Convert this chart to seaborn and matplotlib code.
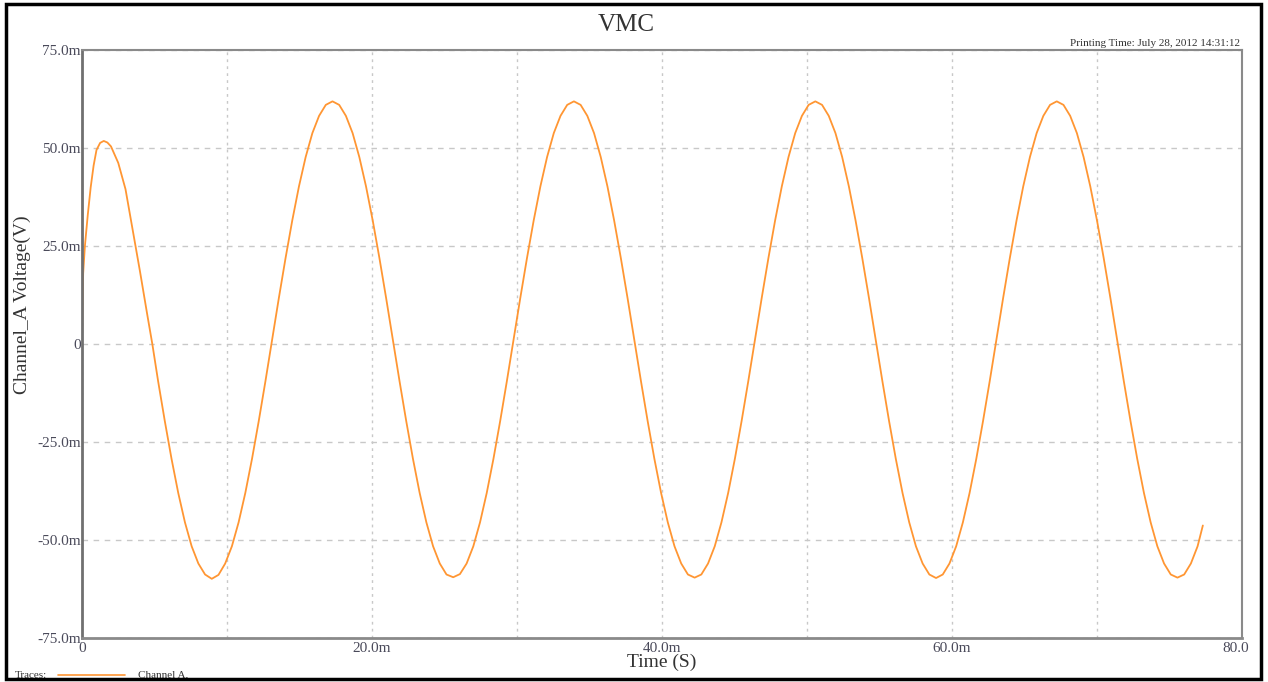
import numpy as np
import pandas as pd
import seaborn as sns
import matplotlib.pyplot as plt
from matplotlib.patches import Rectangle
from matplotlib.lines import Line2D

# start-up hump, time in ms, voltage in mV
t_start = [0.0, 0.03, 0.08, 0.2, 0.4, 0.6, 0.8, 1.0, 1.25, 1.5, 1.75, 2.0, 2.5, 3.0, 3.5, 4.0, 4.5, 4.85]
v_start = [0.0, 8.0, 18.0, 25.0, 33.0, 40.0, 45.5, 49.5, 51.3, 51.8, 51.4, 50.4, 46.2, 39.5, 29.0, 18.5, 7.5, 0.0]

# steady trace, read every 0.4625 ms starting at 5.25 ms
t_steady0 = 5.25
t_step = 0.4625
v_lead = [-9.5, -19.7, -29.3, -38.0, -45.5, -51.6, -56.0, -58.8]
v_cycle1 = [-59.9, -58.9, -56.0, -51.6, -45.5, -38.0, -29.3, -19.7, -9.5, 1.1, 11.7, 21.9,
            31.5, 40.2, 47.7, 53.8, 58.2, 61.0, 61.9, 61.0, 58.2, 53.8, 47.7, 40.2,
            31.5, 21.9, 11.7, 1.1, -9.5, -19.7, -29.3, -38.0, -45.5, -51.6, -56.0, -58.8]
v_cycle2 = [-59.5, -58.7, -56.0, -51.6, -45.5, -38.0, -29.3, -19.7, -9.5, 1.1, 11.7, 21.9,
            31.5, 40.2, 47.7, 53.8, 58.2, 61.0, 61.9, 61.0, 58.2, 53.8, 47.7, 40.2,
            31.5, 21.9, 11.7, 1.1, -9.5, -19.7, -29.3, -38.0, -45.5, -51.6, -56.0, -58.8]
v_cycle3 = [-59.6, -58.8, -56.0, -51.6, -45.5, -38.0, -29.3, -19.7, -9.5, 1.1, 11.7, 21.9,
            31.5, 40.2, 47.7, 53.8, 58.2, 61.0, 61.9, 61.0, 58.2, 53.8, 47.7, 40.2,
            31.5, 21.9, 11.7, 1.1, -9.5, -19.7, -29.3, -38.0, -45.5, -51.6, -56.0, -58.8]
v_cycle4 = [-59.7, -58.8, -56.0, -51.6, -45.5, -38.0, -29.3, -19.7, -9.5, 1.1, 11.7, 21.9,
            31.5, 40.2, 47.7, 53.8, 58.2, 61.0, 61.9, 61.0, 58.2, 53.8, 47.7, 40.2,
            31.5, 21.9, 11.7, 1.1, -9.5, -19.7, -29.3, -38.0, -45.5, -51.6, -56.0, -58.8]
v_tail = [-59.6, -58.8, -56.0, -51.6]
t_end = [77.3]
v_end = [-46.3]

x_ticks = [0, 20, 40, 60, 80]
x_labels = ['0', '20.0m', '40.0m', '60.0m', '80.0m']
y_ticks = [-75, -50, -25, 0, 25, 50, 75]
y_labels = ['-75.0m', '-50.0m', '-25.0m', '0', '25.0m', '50.0m', '75.0m']

v_steady = v_lead + v_cycle1 + v_cycle2 + v_cycle3 + v_cycle4 + v_tail
t_steady = list(t_steady0 + t_step * np.arange(len(v_steady)))
df = pd.DataFrame({'t': t_start + t_steady + t_end,
                   'v': v_start + v_steady + v_end})

sns.set_theme(style='white')
plt.rcParams['font.family'] = ['Liberation Serif', 'DejaVu Serif']

W, H = 1268, 682
fig = plt.figure(figsize=(W / 100, H / 100), dpi=100)
ax = fig.add_axes([82 / W, 1 - 638 / H, (1242 - 82) / W, (638 - 50) / H])

sns.lineplot(data=df, x='t', y='v', ax=ax, color='#ff9633', linewidth=1.3,
             estimator=None, sort=False)

ax.set_xlim(0, 80)
ax.set_ylim(-75, 75)
ax.set_xticks(x_ticks, x_labels)
ax.set_yticks(y_ticks, y_labels)
ax.set_xticks([10, 30, 50, 70], minor=True)
ax.grid(True, which='both', axis='x', color='#c8c8c8', linestyle=(0, (2, 3)), linewidth=1)
ax.grid(True, which='major', axis='y', color='#c8c8c8', linestyle=(0, (4, 4)), linewidth=1)
ax.tick_params(which='both', length=0, labelsize=11, colors='#4a4a5a')
ax.tick_params(axis='x', pad=3)
ax.tick_params(axis='y', pad=1)
ax.set_xlabel('')
ax.set_ylabel('')
for s in ax.spines.values():
    s.set_color('#8a8a8a')
    s.set_linewidth(1.5)
ax.spines['left'].set_color('#707070')
ax.spines['left'].set_linewidth(2)
ax.spines['bottom'].set_linewidth(2)

fig.text(626 / W, 1 - 25 / H, 'VMC', ha='center', va='center', fontsize=18, color='#333333')
fig.text(1240 / W, 1 - 43 / H, 'Printing Time: July 28, 2012 14:31:12', ha='right', va='center',
         fontsize=8, color='#333333')
fig.text(22 / W, 1 - 305 / H, 'Channel_A Voltage(V)', rotation=90, ha='center', va='center',
         fontsize=14, color='#333333')
fig.text(662 / W, 1 - 662 / H, 'Time (S)', ha='center', va='center', fontsize=14, color='#333333')

# legend strip at the bottom
fig.text(15 / W, 1 - 675 / H, 'Traces:', ha='left', va='center', fontsize=8, color='#333333')
fig.add_artist(Line2D([58 / W, 125 / W], [1 - 675 / H, 1 - 675 / H], color='#ff9633', linewidth=1.2))
fig.text(138 / W, 1 - 675 / H, 'Channel A,', ha='left', va='center', fontsize=8, color='#333333')

# cut-off of the last tick label and the outer frame
fig.add_artist(Rectangle((1249 / W, 1 - 662 / H), 19 / W, 22 / H, facecolor='white',
                         edgecolor='none', zorder=5))
fig.add_artist(Rectangle((6 / W, 1 - 679 / H), 1255 / W, 675 / H, fill=False,
                         edgecolor='black', linewidth=2.5, zorder=6))

fig.savefig('out.png', dpi=100)
